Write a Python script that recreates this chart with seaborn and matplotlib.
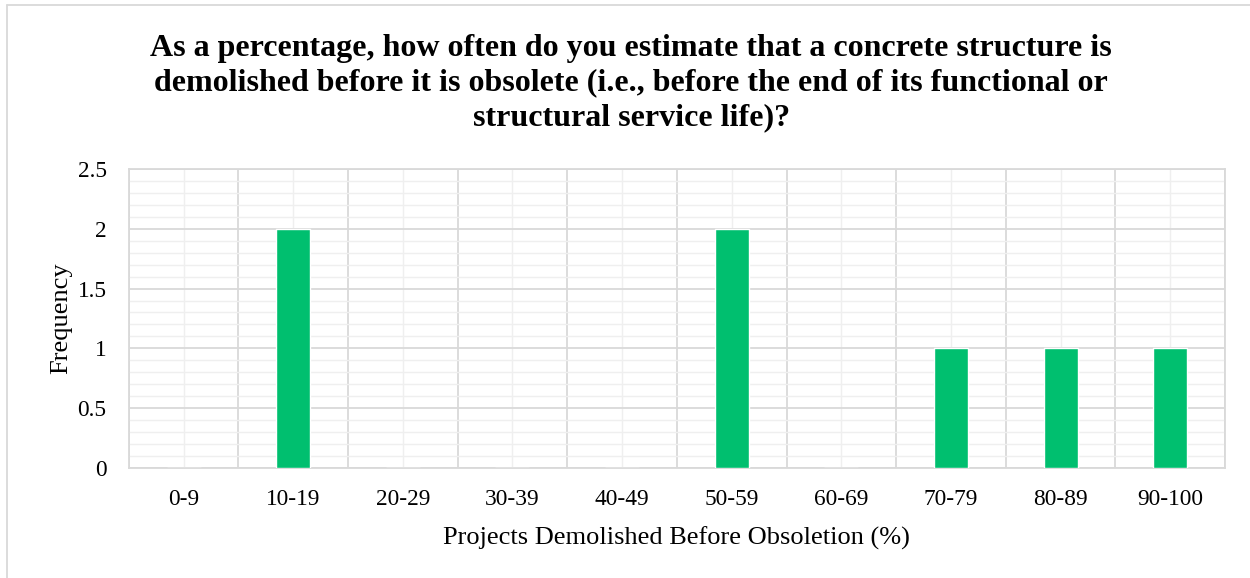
import matplotlib
matplotlib.use("Agg")
import matplotlib.pyplot as plt
import seaborn as sns
import pandas as pd
import numpy as np
from matplotlib.ticker import MultipleLocator, FixedLocator

# --- data ---
ranges = ['0-9', '10-19', '20-29', '30-39', '40-49', '50-59', '60-69', '70-79', '80-89', '90-100']
frequency = [0, 2, 0, 0, 0, 2, 0, 1, 1, 1]

BAR_GREEN = "#00BF6F"
GRID_MAJOR = "#D9D9D9"
GRID_MINOR = "#EFEFEF"

sns.set_style("white")
plt.rcParams['font.family'] = ['Liberation Serif', 'DejaVu Serif']
plt.rcParams['text.color'] = 'black'
plt.rcParams['axes.labelcolor'] = 'black'
plt.rcParams['xtick.color'] = 'black'
plt.rcParams['ytick.color'] = 'black'

df = pd.DataFrame({'range': ranges, 'freq': frequency})

fig = plt.figure(figsize=(12.5, 5.78), dpi=100)
ax = fig.add_axes([0.103, 0.19, 0.877, 0.518])

sns.barplot(data=df, x='range', y='freq', color=BAR_GREEN, width=0.31,
            saturation=1, ax=ax, zorder=3)

ax.set_xlim(-0.5, len(ranges) - 0.5)
ax.set_ylim(0, 2.5)
ax.yaxis.set_major_locator(MultipleLocator(0.5))
ax.yaxis.set_minor_locator(MultipleLocator(0.1))
ax.xaxis.set_minor_locator(FixedLocator(np.arange(-0.5, len(ranges), 1.0)))
ax.set_yticks([0, 0.5, 1, 1.5, 2, 2.5], ['0', '0.5', '1', '1.5', '2', '2.5'])

ax.grid(True, axis='y', which='major', color=GRID_MAJOR, lw=1.3, zorder=1)
ax.grid(True, axis='y', which='minor', color=GRID_MINOR, lw=1.0, zorder=0)
ax.grid(True, axis='x', which='minor', color=GRID_MAJOR, lw=1.3, zorder=1)
ax.grid(True, axis='x', which='major', color=GRID_MINOR, lw=1.0, zorder=0)
ax.set_axisbelow(True)

for s in ax.spines.values():
    s.set_color(GRID_MAJOR)
    s.set_linewidth(1.3)

ax.tick_params(axis='both', which='both', length=0, labelsize=16.8)
ax.tick_params(axis='x', pad=15)
ax.tick_params(axis='y', pad=16)

ax.set_xlabel('Projects Demolished Before Obsoletion (%)', fontsize=19, labelpad=12)
ax.set_ylabel('Frequency', fontsize=19, labelpad=4)

fig.text(0.505, 0.941,
         'As a percentage, how often do you estimate that a concrete structure is\n'
         'demolished before it is obsolete (i.e., before the end of its functional or\n'
         'structural service life)?',
         ha='center', va='top', fontsize=23, fontweight='bold', linespacing=1.25)

# outer chart border (only left/top visible in the crop)
fig.add_artist(plt.Line2D([7/1250, 7/1250], [0, 1 - 5/578], transform=fig.transFigure,
                          color=GRID_MAJOR, lw=1.3))
fig.add_artist(plt.Line2D([7/1250, 1], [1 - 5/578, 1 - 5/578], transform=fig.transFigure,
                          color=GRID_MAJOR, lw=1.3))

fig.savefig('out.png', dpi=100)
